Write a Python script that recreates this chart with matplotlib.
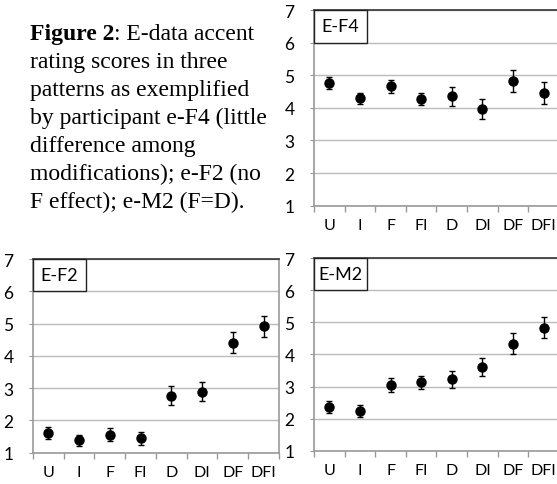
import numpy as np
import matplotlib
matplotlib.use('Agg')
from matplotlib import pyplot as plt
from matplotlib.patches import Rectangle
import matplotlib.transforms as mtransforms

categories = ['U', 'I', 'F', 'FI', 'D', 'DI', 'DF', 'DFI']

ef4_mean = [4.76, 4.29, 4.66, 4.27, 4.36, 3.96, 4.83, 4.46]
ef4_err = [0.19, 0.17, 0.20, 0.18, 0.29, 0.30, 0.34, 0.34]

ef2_mean = [1.60, 1.38, 1.56, 1.45, 2.77, 2.89, 4.41, 4.91]
ef2_err = [0.19, 0.17, 0.21, 0.20, 0.29, 0.29, 0.33, 0.34]

em2_mean = [2.35, 2.23, 3.05, 3.13, 3.22, 3.61, 4.34, 4.84]
em2_err = [0.19, 0.18, 0.21, 0.20, 0.28, 0.29, 0.34, 0.33]

caption_bold = 'Figure 2'
caption_rest = [': E-data accent', 'rating scores in three', 'patterns as exemplified',
                'by participant e-F4 (little', 'difference among',
                'modifications); e-F2 (no', 'F effect); e-M2 (F=D).']

tick_font = 'Lato'


def panel(fig, rect, name, mean, err):
    ax = fig.add_axes(rect)
    x = np.arange(len(categories))
    ax.errorbar(x, mean, yerr=err, fmt='o', color='black', markersize=6.5,
                elinewidth=1, capsize=2.5, capthick=1)
    ax.set_xlim(-0.5, len(categories) - 0.5)
    ax.set_ylim(1, 7)
    ax.set_yticks(range(1, 8))
    ax.set_xticks(x)
    ax.set_xticklabels(categories)
    ax.set_xticks(np.arange(-0.5, len(categories)), minor=True)
    ax.tick_params(axis='x', which='major', length=0, pad=9, labelsize=11.5)
    ax.tick_params(axis='x', which='minor', length=4, color='#999999', width=1)
    ax.tick_params(axis='y', length=3, color='#999999', pad=11, labelsize=12.5)
    for lab in ax.get_xticklabels() + ax.get_yticklabels():
        lab.set_fontfamily(tick_font)
    ax.grid(axis='y', color='#bbbbbb', linewidth=1)
    ax.set_axisbelow(True)
    for side in ['left', 'right', 'bottom']:
        ax.spines[side].set_color('#999999')
        ax.spines[side].set_linewidth(1.2)
    ax.spines['top'].set_color('#333333')
    ax.spines['top'].set_linewidth(1.2)
    trans = mtransforms.blended_transform_factory(ax.transAxes, ax.transData)
    ax.add_patch(Rectangle((0, 6), 0.217, 1, transform=trans, facecolor='white',
                           edgecolor='#222222', linewidth=1, zorder=5, clip_on=False))
    ax.text(0.108, 6.5, name, transform=trans, ha='center', va='center',
            fontsize=13, fontfamily=tick_font, zorder=6)
    return ax


fig = plt.figure(figsize=(5.57, 4.85), dpi=100)

panel(fig, [0.5637, 0.5738, 0.4399, 0.4035], 'E-F4', ef4_mean, ef4_err)
panel(fig, [0.0592, 0.0645, 0.4417, 0.3994], 'E-F2', ef2_mean, ef2_err)
panel(fig, [0.5637, 0.0687, 0.4399, 0.3967], 'E-M2', em2_mean, em2_err)

# caption
cap_size = 17
line_h = 28 / 485
x0 = 30 / 557
y0 = 1 - 40 / 485
t = fig.text(x0, y0, caption_bold, fontsize=cap_size, fontweight='bold',
             fontfamily='Liberation Serif', va='baseline')
fig.canvas.draw()
bb = t.get_window_extent().transformed(fig.transFigure.inverted())
fig.text(bb.x1, y0, caption_rest[0], fontsize=cap_size, fontfamily='Liberation Serif',
         va='baseline')
for i, line in enumerate(caption_rest[1:], start=1):
    fig.text(x0, y0 - i * line_h, line, fontsize=cap_size,
             fontfamily='Liberation Serif', va='baseline')

fig.savefig('out.png', dpi=100)
